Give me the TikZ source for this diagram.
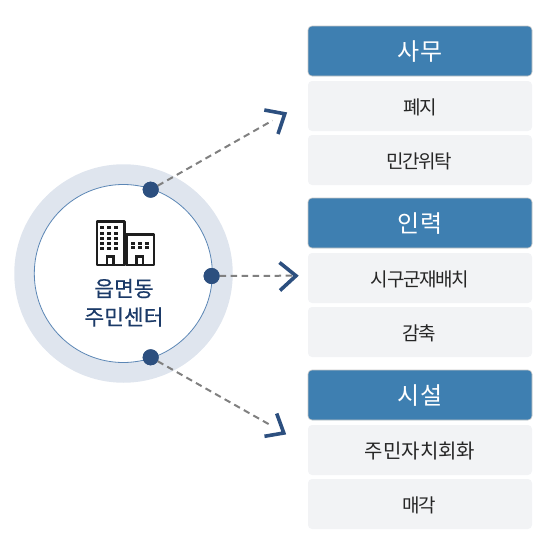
\documentclass[tikz,border=0pt]{standalone}
\usepackage{fontspec}
\setmainfont{Noto Sans CJK KR}
\newfontfamily\midfont[FakeBold=0.35]{Noto Sans CJK KR}
\newfontfamily\tightfont[LetterSpace=-7]{Noto Sans CJK KR}
\definecolor{ringc}{HTML}{DFE5EE}
\definecolor{linec}{HTML}{5B86B5}
\definecolor{dotc}{HTML}{2C4F7F}
\definecolor{headc}{HTML}{3E7FB1}
\definecolor{itemc}{HTML}{F2F3F5}
\definecolor{dashc}{HTML}{808080}
\definecolor{titlec}{HTML}{1B3A68}
\definecolor{iconc}{HTML}{1E1E1E}
\tikzset{
  headbox/.style={draw=black!22,line width=.6pt,fill=headc,rounded corners=4pt,minimum width=224pt,minimum height=50pt,inner sep=0pt},
  itembox/.style={fill=itemc,rounded corners=4pt,minimum width=224pt,minimum height=50pt,inner sep=0pt},
  headtext/.style={inner sep=0pt,text=white,font=\fontsize{24}{24}\selectfont},
  itemtext/.style={inner sep=0pt,text=black!85,font=\tightfont\fontsize{19}{19}\selectfont},
  widetext/.style={inner sep=0pt,text=black!85,font=\fontsize{20}{20}\selectfont},
  dotnode/.style={circle,fill=dotc,minimum size=16pt,inner sep=0pt},
  dashline/.style={draw=dashc,line width=2pt,dash pattern=on 6.5pt off 4.5pt,dash phase=3pt},
  chevron/.style={draw=dotc,line width=3.6pt,line join=miter},
  wall/.style={draw=iconc,line width=2.6pt,fill=white,line join=round},
  win/.style={fill=iconc,minimum width=4pt,minimum height=3pt,inner sep=0pt},
  titletext/.style={text=titlec,font=\midfont\fontsize{21.5}{21.5}\selectfont,inner sep=0pt},
}
\begin{document}
\begin{tikzpicture}[x=1pt,y=-1pt]
\useasboundingbox (0,0) rectangle (547,546);
% circle
\node[circle,fill=ringc,minimum size=218.5pt,inner sep=0pt] (ring) at (123.5,273.5) {};
\node[circle,draw=linec,line width=.8pt,fill=white,minimum size=178pt,inner sep=0pt] (inner) at (123.3,273.5) {};
% connectors
\node[dotnode] (d1) at (150.7,189.7) {};
\node[dotnode] (d2) at (211.6,276) {};
\node[dotnode] (d3) at (150.7,357.3) {};
\coordinate (e1) at (272.5,120.5);
\coordinate (e2) at (292,275.7);
\coordinate (e3) at (272,426);
\draw[dashline] (d1.center) -- (e1);
\draw[dashline] (d2.center) -- (e2);
\draw[dashline] (d3.center) -- (e3);
\node[dotnode] at (d1) {};
\node[dotnode] at (d2) {};
\node[dotnode] at (d3) {};
\draw[chevron] (264.3,110) -- (284.8,113.8) -- (278,134);
\draw[chevron] (279.5,262.5) -- (296,275.8) -- (280,290.5);
\draw[chevron] (276.7,413.5) -- (283.8,433) -- (264.5,436.3);
% icon
\draw[wall] (126.5,234.5) rectangle (153.8,265);
\draw[wall] (96.8,221.2) rectangle (124.5,265);
\foreach \x in {102.3,109,115.7}{\foreach \y in {227.3,233,238,243,248}{\node[win] at (\x,\y) {};}}
\foreach \x in {132.7,140,147.3}{\foreach \y in {243,247.7}{\node[win] at (\x,\y) {};}}
\draw[draw=iconc,line width=2.2pt] (107,265) -- (107,256.5) -- (113.5,256.5) -- (113.5,265);
\draw[draw=iconc,line width=2.2pt] (136.5,265) -- (136.5,256.5) -- (143,256.5) -- (143,265);
% centre text
\node[titletext] (t1) at (124,288.5) {읍면동};
\node[titletext] (t2) at (124,317) {주민센터};
% boxes
\node[headbox] (h1) at (420,51) {};
\node[itembox] (a1) at (420,106) {};
\node[itembox] (a2) at (420,160) {};
\node[headbox] (h2) at (420,223) {};
\node[itembox] (b1) at (420,278) {};
\node[itembox] (b2) at (420,332) {};
\node[headbox] (h3) at (420,395) {};
\node[itembox] (c1) at (420,450) {};
\node[itembox] (c2) at (420,504) {};
\node[headtext] (h1t) at (420,52) {사무};
\node[itemtext] (a1t) at (420,107) {폐지};
\node[itemtext] (a2t) at (419,161) {민간위탁};
\node[headtext] (h2t) at (420,224) {인력};
\node[itemtext] (b1t) at (420,279) {시구군재배치};
\node[itemtext] (b2t) at (419,333) {감축};
\node[headtext] (h3t) at (420,396) {시설};
\node[widetext] (c1t) at (420,451) {주민자치회화};
\node[itemtext] (c2t) at (419,505) {매각};
\end{tikzpicture}
\end{document}
